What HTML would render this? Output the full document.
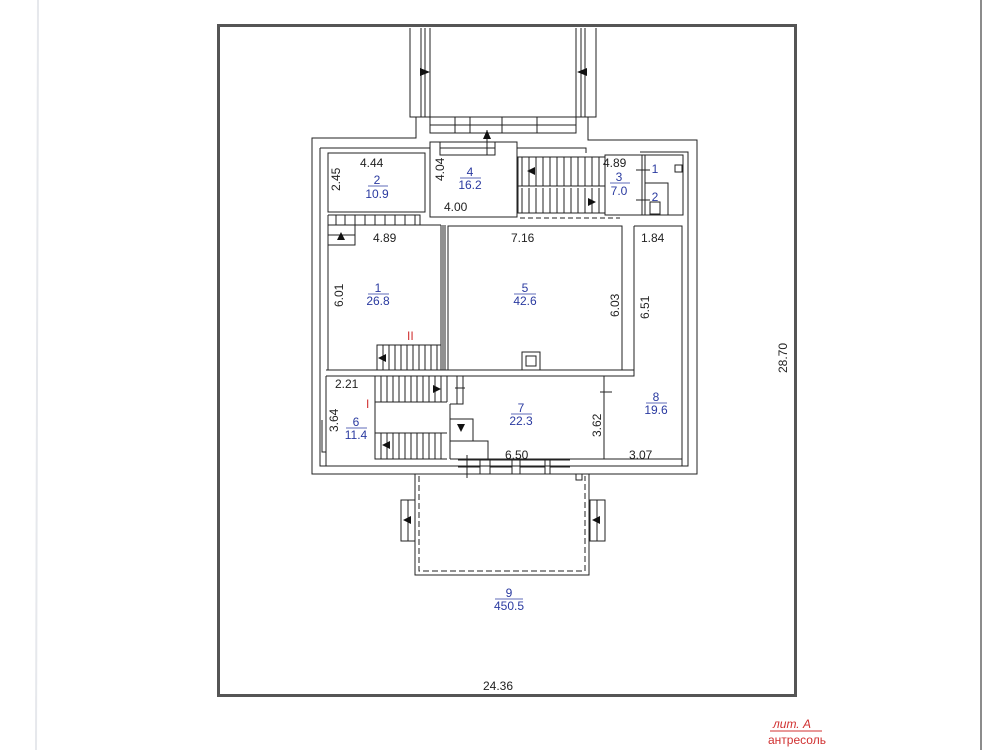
<!DOCTYPE html>
<html><head><meta charset="utf-8"><style>
html,body{margin:0;padding:0;background:#fff;}
svg{display:block;}
text{font-family:"Liberation Sans",sans-serif;font-size:12px;}
.b{fill:#2a3aa0;}
.k{fill:#222;}
</style></head><body>
<svg width="1000" height="750" viewBox="0 0 1000 750" xmlns="http://www.w3.org/2000/svg">
<rect width="1000" height="750" fill="#fff"/>
<line x1="38" y1="0" x2="36" y2="750" stroke="#e6e8ec" stroke-width="2"/>
<line x1="981" y1="0" x2="981" y2="750" stroke="#666" stroke-width="1.5"/>
<rect x="218.5" y="25.5" width="577" height="670" fill="none" stroke="#555" stroke-width="3"/>
<g fill="none" stroke="#222" stroke-width="1">
<path d="M410 28V117H596V28"/>
<path d="M421 28V117M425 28V117M430 28V117M576 28V117M581 28V117M585 28V117"/>
<path d="M430 117H576V133H430Z M430 125H576 M455 117V133 M470 117V133 M502 117V133 M537 117V133"/>
<path d="M416 117V138H312V474H697V140H588V117"/>
<path d="M320 148H430M517 148H586V153M320 148V466H688V152H640"/>
<path d="M328 153H425V212H328Z"/>
<path d="M430 142H517V217H430Z"/>
<path d="M440 142V155H495V142 M440 148H495 M487 130V155"/>
<path d="M518 157H605V213H518Z M518 186H605"/>
<path d="M522 157V186M529 157V186M536 157V186M543 157V186M550 157V186M557 157V186M564 157V186M571 157V186M578 157V186M585 157V186M592 157V186M599 157V186"/>
<path d="M522 188V213M529 188V213M536 188V213M543 188V213M550 188V213M557 188V213M564 188V213M571 188V213M578 188V213M585 188V213M592 188V213M599 188V213"/>
<path d="M520 218H620" stroke-dasharray="5 3"/>
<path d="M605 155H683V215H605Z M642 155V215 M645 155V215 M645 183H668V215"/>
<path d="M636 170H650 M636 200H650"/>
<rect x="675" y="165" width="7" height="7"/>
<rect x="650" y="202" width="10" height="12"/>
<path d="M328 215H420V225 M328 225H441 M328 215V245H355V225"/>
<path d="M336 215V225M345 215V225M355 215V225M365 215V225M375 215V225M385 215V225M395 215V225M405 215V225M415 215V225M328 235H355"/>
<path d="M328 225V370H441V225"/>
<path d="M443 225V370 M445 225V370"/>
<path d="M377 345H441V370H377Z"/>
<path d="M383 345V370M389 345V370M395 345V370M401 345V370M407 345V370M413 345V370M419 345V370M425 345V370M431 345V370M437 345V370"/>
<path d="M448 226H622V370H448Z"/>
<rect x="522" y="352" width="18" height="18"/><rect x="526" y="356" width="10" height="10"/>
<path d="M634 226H682V466 M634 226V376H604"/>
<path d="M326 370H634 M326 376H604 M326 376V466"/>
<path d="M375 376V459H447 M375 402H447 M375 433H447 M447 376V402"/>
<path d="M381 376V402M387 376V402M393 376V402M399 376V402M405 376V402M411 376V402M417 376V402M423 376V402M429 376V402M435 376V402M441 376V402"/>
<path d="M381 433V459M387 433V459M393 433V459M399 433V459M405 433V459M411 433V459M417 433V459M423 433V459M429 433V459M435 433V459M441 433V459"/>
<path d="M457 376V404 M455 388H465"/>
<path d="M322 420V452H326"/>
<path d="M450 404H463V376 M450 404V459 M450 419H473V441H450 M450 441H488V459 M604 376V459 M600 392H612"/>
<path d="M450 459H604 M604 459H682"/>
<path d="M458 460H570 M458 474H570 M480 460V474 M490 460V474 M512 460V474 M520 460V474 M545 460V474 M550 460V474 M458 467H480 M490 467H512 M520 467H545 M550 467H570 M467 455V478"/>
<path d="M415 474V575H589V474"/>
<path d="M419 476V571H585V476" stroke-dasharray="6 3"/>
<rect x="576" y="474" width="6" height="6"/>
<path d="M401 500H415V541H401Z M408 500V541 M590 500H605V541H590Z M597 500V541"/>
</g>
<g fill="#111">
<path d="M430 72L420 68V76Z"/>
<path d="M577 72L587 68V76Z"/>
<path d="M487 130L483 139H491Z"/>
<path d="M527 171L535 167V175Z"/>
<path d="M596 202L588 198V206Z"/>
<path d="M341 232L337 240H345Z"/>
<path d="M378 358L386 354V362Z"/>
<path d="M441 389L433 385V393Z"/>
<path d="M382 445L390 441V449Z"/>
<path d="M461 432L457 424H465Z"/>
<path d="M403 520L411 516V524Z"/>
<path d="M592 520L600 516V524Z"/>
</g>
<g class="k">
<text x="360" y="167">4.44</text>
<text x="340" y="191" transform="rotate(-90 340 191)">2.45</text>
<text x="444" y="181" transform="rotate(-90 444 181)">4.04</text>
<text x="444" y="211">4.00</text>
<text x="603" y="167">4.89</text>
<text x="373" y="242">4.89</text>
<text x="511" y="242">7.16</text>
<text x="641" y="242">1.84</text>
<text x="343" y="307" transform="rotate(-90 343 307)">6.01</text>
<text x="619" y="317" transform="rotate(-90 619 317)">6.03</text>
<text x="649" y="319" transform="rotate(-90 649 319)">6.51</text>
<text x="335" y="388">2.21</text>
<text x="338" y="432" transform="rotate(-90 338 432)">3.64</text>
<text x="601" y="437" transform="rotate(-90 601 437)">3.62</text>
<text x="505" y="459">6.50</text>
<text x="629" y="459">3.07</text>
<text x="483" y="690">24.36</text>
<text x="787" y="373" transform="rotate(-90 787 373)">28.70</text>
</g>
<g class="b" text-anchor="middle">
<text x="377" y="184">2</text><text x="377" y="198">10.9</text>
<text x="470" y="176">4</text><text x="470" y="189">16.2</text>
<text x="619" y="181">3</text><text x="619" y="195">7.0</text>
<text x="655" y="173" font-size="11">1</text><text x="655" y="201" font-size="11">2</text>
<text x="378" y="292">1</text><text x="378" y="305">26.8</text>
<text x="525" y="292">5</text><text x="525" y="305">42.6</text>
<text x="356" y="426">6</text><text x="356" y="439">11.4</text>
<text x="521" y="412">7</text><text x="521" y="425">22.3</text>
<text x="656" y="401">8</text><text x="656" y="414">19.6</text>
<text x="509" y="597">9</text><text x="509" y="610">450.5</text>
</g>
<g stroke="#2a3aa0" stroke-width="0.8">
<line x1="368" y1="186" x2="388" y2="186"/><line x1="460" y1="178" x2="481" y2="178"/>
<line x1="610" y1="183" x2="630" y2="183"/><line x1="368" y1="294" x2="389" y2="294"/>
<line x1="514" y1="294" x2="536" y2="294"/><line x1="346" y1="428" x2="367" y2="428"/>
<line x1="511" y1="414" x2="532" y2="414"/><line x1="646" y1="403" x2="667" y2="403"/>
<line x1="495" y1="599" x2="523" y2="599"/>
</g>
<g fill="#d03030">
<text x="407" y="340" font-size="10">II</text>
<text x="366" y="408" font-size="10">I</text>
<text x="773" y="728" font-size="13" font-style="italic">лит.  A</text>
<text x="768" y="744" font-size="13">антресоль</text>
</g>
<line x1="770" y1="731" x2="822" y2="731" stroke="#d03030" stroke-width="1"/>
</svg>
</body></html>
